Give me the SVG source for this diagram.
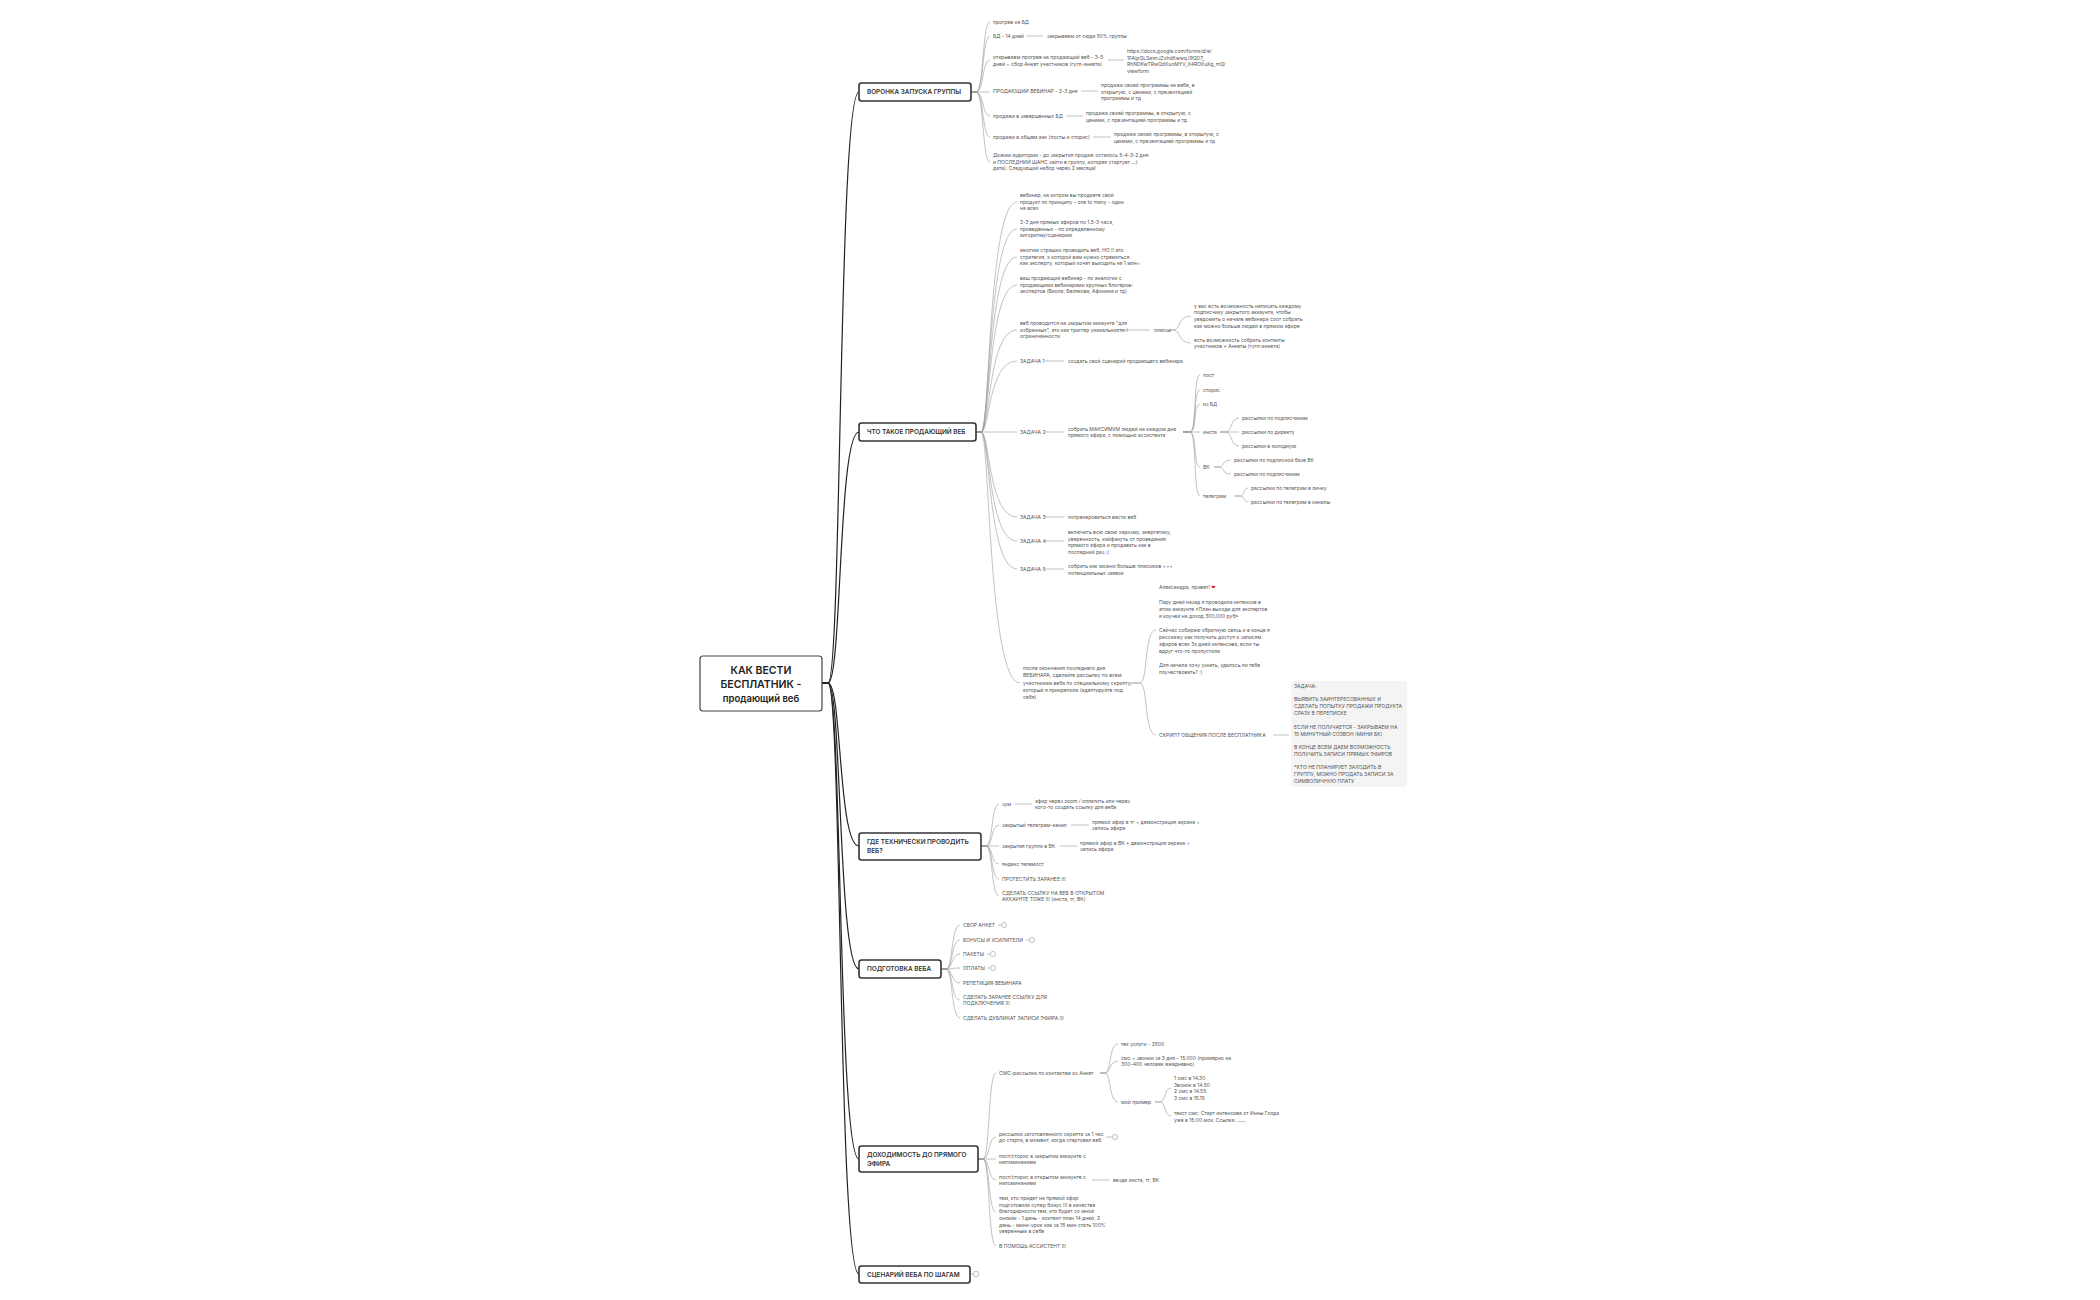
<svg xmlns="http://www.w3.org/2000/svg" width="2100" height="1300" viewBox="0 0 2100 1300">
<style>
.bg{fill:#fff}
.root rect{fill:#fff;stroke:#444;stroke-width:1.2}
.br rect{fill:#fff;stroke:#333;stroke-width:1.6}
text{font-family:Inter,"Liberation Sans","DejaVu Sans",sans-serif}
.rt{font-size:10.5px;font-weight:600;fill:#222;text-anchor:middle}
.bt{font-size:6.4px;font-weight:600;fill:#333}
.t{font-size:5px;fill:#555}
.m{fill:none;stroke:#222;stroke-width:1.2}
.l{fill:none;stroke:#999;stroke-width:0.6}
.ic{fill:#fff;stroke:#999;stroke-width:0.6}
.note{fill:#f4f4f4}
</style>
<rect class="bg" width="2100" height="1300"/>
<g id="connectors">
<g class="m">
<path d="M822,683 H828 C842,683 838,92 859,92"/>
<path d="M822,683 H828 C842,683 838,432 859,432"/>
<path d="M822,683 H828 C842,683 838,846 859,846"/>
<path d="M822,683 H828 C842,683 838,969 859,969"/>
<path d="M822,683 H828 C842,683 838,1159 859,1159"/>
<path d="M822,683 H828 C842,683 838,1274 859,1274"/>
</g>
<g class="l">
<path d="M971,92 H976 C984,92 982,22 990,22"/>
<path d="M971,92 H976 C984,92 982,36 990,36"/>
<path d="M971,92 H976 C984,92 982,60 990,60"/>
<path d="M971,92 H990"/>
<path d="M971,92 H976 C984,92 982,116 990,116"/>
<path d="M971,92 H976 C984,92 982,137 990,137"/>
<path d="M971,92 H976 C984,92 982,162 990,162"/>
<path d="M1026,36 H1043"/><path d="M1108,60 H1124"/><path d="M1081,91 H1098"/><path d="M1066,116 H1083"/><path d="M1093,137 H1111"/>
<path d="M976,432 H981 C990,432 988,202 1017,202"/>
<path d="M976,432 H981 C990,432 988,229 1017,229"/>
<path d="M976,432 H981 C990,432 988,257 1017,257"/>
<path d="M976,432 H981 C990,432 988,285 1017,285"/>
<path d="M976,432 H981 C990,432 988,330 1017,330"/>
<path d="M976,432 H981 C990,432 988,361 1017,361"/>
<path d="M976,432 H1017"/>
<path d="M976,432 H981 C990,432 988,517 1017,517"/>
<path d="M976,432 H981 C990,432 988,541 1017,541"/>
<path d="M976,432 H981 C990,432 988,569 1017,569"/>
<path d="M976,432 H981 C990,432 988,683 1020,683"/>
<path d="M1116,330 H1150"/>
<path d="M1169,330 H1174 C1180,330 1178,316 1191,316"/>
<path d="M1169,330 H1174 C1180,330 1178,343 1191,343"/>
<path d="M1045,361 H1064"/><path d="M1045,432 H1064"/><path d="M1045,517 H1064"/><path d="M1045,541 H1064"/><path d="M1045,569 H1064"/>
<path d="M1183,432 H1190 C1197,432 1193,375 1200,375"/>
<path d="M1183,432 H1190 C1197,432 1193,390 1200,390"/>
<path d="M1183,432 H1190 C1197,432 1193,404 1200,404"/>
<path d="M1183,432 H1200"/>
<path d="M1183,432 H1190 C1197,432 1193,467 1200,467"/>
<path d="M1183,432 H1190 C1197,432 1193,496 1200,496"/>
<path d="M1220,432 H1226 C1232,432 1230,418 1239,418"/><path d="M1220,432 H1239"/><path d="M1220,432 H1226 C1232,432 1230,446 1239,446"/>
<path d="M1214,467 H1219 C1224,467 1222,460 1231,460"/><path d="M1214,467 H1219 C1224,467 1222,474 1231,474"/>
<path d="M1235,496 H1240 C1245,496 1243,488 1248,488"/><path d="M1235,496 H1240 C1245,496 1243,502 1248,502"/>
<path d="M1131,683 H1140 C1148,683 1144,630 1156,630"/>
<path d="M1131,683 H1140 C1148,683 1144,735 1156,735"/>
<path d="M1273,735 H1289"/>
<path d="M981,846 H986 C993,846 991,804 999,804"/>
<path d="M981,846 H986 C993,846 991,825 999,825"/>
<path d="M981,846 H999"/>
<path d="M981,846 H986 C993,846 991,864 999,864"/>
<path d="M981,846 H986 C993,846 991,879 999,879"/>
<path d="M981,846 H986 C993,846 991,896 999,896"/>
<path d="M1015,804 H1032"/><path d="M1071,825 H1089"/><path d="M1060,846 H1077"/>
<path d="M941,969 H946 C953,969 951,925 960,925"/>
<path d="M941,969 H946 C953,969 951,940 960,940"/>
<path d="M941,969 H946 C953,969 951,954 960,954"/>
<path d="M941,969 H946 C953,969 951,968 960,968"/>
<path d="M941,969 H946 C953,969 951,983 960,983"/>
<path d="M941,969 H946 C953,969 951,1000 960,1000"/>
<path d="M941,969 H946 C953,969 951,1018 960,1018"/>
<path d="M998,925 H1001"/><path d="M1026,940 H1029"/><path d="M987,954 H990"/><path d="M987,968 H990"/>
<path d="M978,1159 H983 C990,1159 988,1073 996,1073"/>
<path d="M978,1159 H983 C990,1159 988,1137 996,1137"/>
<path d="M978,1159 H983 C990,1159 988,1159 996,1159"/>
<path d="M978,1159 H983 C990,1159 988,1180 996,1180"/>
<path d="M978,1159 H983 C990,1159 988,1212 996,1212"/>
<path d="M978,1159 H983 C990,1159 988,1246 996,1246"/>
<path d="M1100,1073 H1105 C1111,1073 1109,1044 1118,1044"/>
<path d="M1100,1073 H1105 C1111,1073 1109,1061 1118,1061"/>
<path d="M1100,1073 H1105 C1111,1073 1109,1102 1118,1102"/>
<path d="M1155,1102 H1160 C1166,1102 1164,1088 1171,1088"/>
<path d="M1155,1102 H1160 C1166,1102 1164,1116 1171,1116"/>
<path d="M1106,1137 H1112"/>
<path d="M1092,1180 H1110"/>
<path d="M970,1274 H973"/>
</g>
</g>
<g id="root" class="root"><rect x="700" y="656" width="122" height="55" rx="3"/>
<text class="rt" x="761" y="674">КАК ВЕСТИ</text><text class="rt" x="761" y="688">БЕСПЛАТНИК -</text><text class="rt" x="761" y="702" style="font-size:9.5px">продающий веб</text></g>

<g id="b1" class="br"><rect x="859" y="83" width="112" height="18" rx="2.5"/><text class="bt" x="867" y="94.3">ВОРОНКА ЗАПУСКА ГРУППЫ</text></g>
<g id="b1c">
<text class="t" x="993" y="23.8">прогрев на БД</text>
<text class="t" x="993" y="37.8">БД - 14 дней</text>
<text class="t" x="1047" y="37.8">закрываем от сюда 50% группы</text>
<text class="t" x="993" y="59">открываем прогрев на продающий веб - 3-5</text><text class="t" x="993" y="66">дней + сбор Анкет участников (гугл-анкета)</text>
<text class="t" x="1127" y="52.8">https://docs.google.com/forms/d/e/</text><text class="t" x="1127" y="59.5">1FAIpQLSesnJZvhdKwwqJ9QD7_</text><text class="t" x="1127" y="66.2">RhNDKwTRwQdXuoMYV_X4ROXuKg_mQ/</text><text class="t" x="1127" y="73">viewform</text>
<text class="t" x="993" y="92.8">ПРОДАЮЩИЙ ВЕБИНАР - 2-3 дня</text>
<text class="t" x="1101" y="86.8">продажа своей программы на вебе, в</text><text class="t" x="1101" y="93.5">открытую, с ценами, с презентацией</text><text class="t" x="1101" y="100.2">программы и тд</text>
<text class="t" x="993" y="117.8">продажи в завершенных БД</text>
<text class="t" x="1086" y="114.8">продажа своей программы, в открытую, с</text><text class="t" x="1086" y="121.6">ценами, с презентацией программы и тд</text>
<text class="t" x="993" y="138.8">продажи в общем акк (посты и сторис)</text>
<text class="t" x="1114" y="135.8">продажа своей программы, в открытую, с</text><text class="t" x="1114" y="142.6">ценами, с презентацией программы и тд</text>
<text class="t" x="993" y="156.8">Дожим аудитории - до закрытия продаж осталось 5-4-3-2 дня</text><text class="t" x="993" y="163.6">и ПОСЛЕДНИЙ ШАНС зайти в группу, которая стартует ...(</text><text class="t" x="993" y="170.4">дата). Следующий набор через 2 месяца!</text>
</g>

<g id="b2" class="br"><rect x="859" y="423" width="117" height="18" rx="2.5"/><text class="bt" x="867" y="434.3">ЧТО ТАКОЕ ПРОДАЮЩИЙ ВЕБ</text></g>
<g id="b2c">
<text class="t" x="1020" y="196.8">вебинар, на котром вы продаете свой</text><text class="t" x="1020" y="203.5">продукт по принципу - one to many - один</text><text class="t" x="1020" y="210.2">на всех</text>
<text class="t" x="1020" y="223.8">2-3 дня прямых эфиров по 1.5-3 часа,</text><text class="t" x="1020" y="230.5">проведенных - по определенному</text><text class="t" x="1020" y="237.2">алгоритму/сценарию</text>
<text class="t" x="1020" y="251.8">многим страшно проводить веб, НО !! это</text><text class="t" x="1020" y="258.5">стратегия, к которой вам нужно стремиться</text><text class="t" x="1020" y="265.2">как эксперту, который хочет выходить на 1 млн+</text>
<text class="t" x="1020" y="279.8">ваш продающий вебинар - по аналогии с</text><text class="t" x="1020" y="286.5">продающими вебинарами крупных блогеров-</text><text class="t" x="1020" y="293.2">экспертов (Виола, Белякова, Афонина и тд)</text>
<text class="t" x="1020" y="324.8">веб проводится на закрытом аккаунте "для</text><text class="t" x="1020" y="331.5">избранных", это как триггер уникальности /</text><text class="t" x="1020" y="338.2">ограниченности</text>
<text class="t" x="1154" y="331.8">плюсы</text>
<text class="t" x="1194" y="307.8">у вас есть возможность написать каждому</text><text class="t" x="1194" y="314.4">подписчику закрытого аккаунта, чтобы</text><text class="t" x="1194" y="321">уведомить о начале вебинара соот собрать</text><text class="t" x="1194" y="327.6">как можно больше людей в прямом эфире</text>
<text class="t" x="1194" y="341.8">есть возможность собрать контакты</text><text class="t" x="1194" y="348.4">участников + Анкеты (гугл-анкета)</text>
<text class="t" x="1020" y="362.8">ЗАДАЧА 1</text><text class="t" x="1068" y="362.8">создать свой сценарий продающего вебинара</text>
<text class="t" x="1020" y="433.8">ЗАДАЧА 2</text>
<text class="t" x="1068" y="430.5">собрать МАКСИМУМ людей на каждом дне</text><text class="t" x="1068" y="437.2">прямого эфира, с помощью ассистента</text>
<text class="t" x="1203" y="376.8">пост</text><text class="t" x="1203" y="391.8">сторис</text><text class="t" x="1203" y="405.8">из БД</text><text class="t" x="1203" y="433.8">инста</text><text class="t" x="1203" y="468.8">ВК</text><text class="t" x="1203" y="497.8">телеграм</text>
<text class="t" x="1242" y="419.8">рассылки по подписчикам</text><text class="t" x="1242" y="433.8">рассылки по директу</text><text class="t" x="1242" y="447.8">рассылки в холодную</text>
<text class="t" x="1234" y="461.8">рассылки по подписной базе ВК</text><text class="t" x="1234" y="475.8">рассылки по подписчикам</text>
<text class="t" x="1251" y="489.8">рассылки по телеграм в личку</text><text class="t" x="1251" y="503.8">рассылки по телеграм в каналы</text>
<text class="t" x="1020" y="518.8">ЗАДАЧА 3</text><text class="t" x="1068" y="518.8">потренероваться вести веб</text>
<text class="t" x="1020" y="542.8">ЗАДАЧА 4</text>
<text class="t" x="1068" y="533.8">включить всю свою харизму, энергетику,</text><text class="t" x="1068" y="540.5">уверенность, кайфануть от проведения</text><text class="t" x="1068" y="547.2">прямого эфира и продавать как в</text><text class="t" x="1068" y="553.9">последний раз :)</text>
<text class="t" x="1068" y="567.8">собрать как можно больше плюсиков +++</text><text class="t" x="1068" y="574.5">потенциальных заявок</text>
<text class="t" x="1020" y="570.8">ЗАДАЧА 5</text>
<text class="t" x="1023" y="670.3">после окончания последнего дня</text><text class="t" x="1023" y="677.4">ВЕБИНАРА, сделайте рассылку по всем</text><text class="t" x="1023" y="684.5">участникам веба по специальному скрипту,</text><text class="t" x="1023" y="691.6">который я прикрепила (адаптируйте под</text><text class="t" x="1023" y="698.7">себя)</text>
<text class="t" x="1159" y="589.3">Александра, привет! <tspan fill="#e02020" style="font-family:'DejaVu Sans'">❤</tspan></text>
<text class="t" x="1159" y="603.8">Пару дней назад я проводила интенсив в</text><text class="t" x="1159" y="610.9">этом аккаунте «План выхода для экспертов</text><text class="t" x="1159" y="618">и коучей на доход 300.000 руб»</text>
<text class="t" x="1159" y="631.8">Сейчас собираю обратную связь и в конце я</text><text class="t" x="1159" y="638.9">расскажу как получить доступ к записям</text><text class="t" x="1159" y="646">эфиров всех 3х дней интенсива, если ты</text><text class="t" x="1159" y="653.1">вдруг что-то пропустила</text>
<text class="t" x="1159" y="666.8">Для начала хочу узнать, удалось ли тебе</text><text class="t" x="1159" y="673.9">поучаствовать? :)</text>
<text class="t" x="1159" y="736.8">СКРИПТ ОБЩЕНИЯ ПОСЛЕ БЕСПЛАТНИКА</text>
<rect class="note" x="1291" y="681" width="116" height="106" rx="2"/>
<text class="t" x="1294" y="688.3">ЗАДАЧА:</text>
<text class="t" x="1294" y="701.3">ВЫЯВИТЬ ЗАИНТЕРЕСОВАННЫХ И</text><text class="t" x="1294" y="708.2">СДЕЛАТЬ ПОПЫТКУ ПРОДАЖИ ПРОДУКТА</text><text class="t" x="1294" y="715.1">СРАЗУ В ПЕРЕПИСКЕ</text>
<text class="t" x="1294" y="729.3">ЕСЛИ НЕ ПОЛУЧАЕТСЯ - ЗАКРЫВАЕМ НА</text><text class="t" x="1294" y="736.2">15 МИНУТНЫЙ СОЗВОН (МИНИ БК)</text>
<text class="t" x="1294" y="749.3">В КОНЦЕ ВСЕМ ДАЕМ ВОЗМОЖНОСТЬ</text><text class="t" x="1294" y="756.2">ПОЛУЧИТЬ ЗАПИСИ ПРЯМЫХ ЭФИРОВ</text>
<text class="t" x="1294" y="769.3">*КТО НЕ ПЛАНИРУЕТ ЗАХОДИТЬ В</text><text class="t" x="1294" y="776.2">ГРУППУ, МОЖНО ПРОДАТЬ ЗАПИСИ ЗА</text><text class="t" x="1294" y="783.1">СИМВОЛИЧНУЮ ПЛАТУ</text>
</g>

<g id="b3" class="br"><rect x="859" y="833" width="122" height="27" rx="2.5"/><text class="bt" x="867" y="844.3">ГДЕ ТЕХНИЧЕСКИ ПРОВОДИТЬ</text><text class="bt" x="867" y="853.3">ВЕБ?</text></g>
<g id="b3c">
<text class="t" x="1002" y="805.8">зум</text>
<text class="t" x="1035" y="802.5">эфир через zoom / оплатить или через</text><text class="t" x="1035" y="809.2">кого-то создать ссылку для веба</text>
<text class="t" x="1002" y="826.8">закрытый телеграм-канал</text>
<text class="t" x="1092" y="823.5">прямой эфир в тг + демонстрация экрана +</text><text class="t" x="1092" y="830.2">запись эфира</text>
<text class="t" x="1002" y="847.8">закрытая группа в ВК</text>
<text class="t" x="1080" y="844.5">прямой эфир в ВК + демонстрация экрана +</text><text class="t" x="1080" y="851.2">запись эфира</text>
<text class="t" x="1002" y="865.8">яндекс телемост</text>
<text class="t" x="1002" y="880.8">ПРОТЕСТИТЬ ЗАРАНЕЕ !!!</text>
<text class="t" x="1002" y="894.5">СДЕЛАТЬ ССЫЛКУ НА ВЕБ В ОТКРЫТОМ</text><text class="t" x="1002" y="901.2">АККАУНТЕ ТОЖЕ !!! (инста, тг, ВК)</text>
</g>

<g id="b4" class="br"><rect x="859" y="960" width="82" height="18" rx="2.5"/><text class="bt" x="867" y="971.3">ПОДГОТОВКА ВЕБА</text></g>
<g id="b4c">
<text class="t" x="963" y="926.8">СБОР АНКЕТ</text><circle class="ic" cx="1004" cy="925" r="2.6"/>
<text class="t" x="963" y="941.8">БОНУСЫ И УСИЛИТЕЛИ</text><circle class="ic" cx="1032" cy="940" r="2.6"/>
<text class="t" x="963" y="955.8">ПАКЕТЫ</text><circle class="ic" cx="993" cy="954" r="2.6"/>
<text class="t" x="963" y="969.8">ОПЛАТЫ</text><circle class="ic" cx="993" cy="968" r="2.6"/>
<text class="t" x="963" y="984.8">РЕПЕТИЦИЯ ВЕБИНАРА</text>
<text class="t" x="963" y="998.5">СДЕЛАТЬ ЗАРАНЕЕ ССЫЛКУ ДЛЯ</text><text class="t" x="963" y="1005.2">ПОДКЛЮЧЕНИЯ !!!</text>
<text class="t" x="963" y="1019.8">СДЕЛАТЬ ДУБЛИКАТ ЗАПИСИ ЭФИРА !!!</text>
</g>

<g id="b5" class="br"><rect x="859" y="1146" width="119" height="26" rx="2.5"/><text class="bt" x="867" y="1157">ДОХОДИМОСТЬ ДО ПРЯМОГО</text><text class="bt" x="867" y="1166">ЭФИРА</text></g>
<g id="b5c">
<text class="t" x="999" y="1074.8">СМС-рассылка по контактам из Анкет</text>
<text class="t" x="1121" y="1045.8">тех услуги - 2500</text>
<text class="t" x="1121" y="1059.5">смс + звонки за 3 дня - 15.000 (примерно на</text><text class="t" x="1121" y="1066.2">300-400 человек ежедневно)</text>
<text class="t" x="1121" y="1103.8">мой пример</text>
<text class="t" x="1174" y="1079.8">1 смс в 14.30</text><text class="t" x="1174" y="1086.6">Звонок в 14.50</text><text class="t" x="1174" y="1093.4">2 смс в 14.55</text><text class="t" x="1174" y="1100.2">3 смс в 15.15</text>
<text class="t" x="1174" y="1114.8">текст смс: Старт интенсива от Инны Голда</text><text class="t" x="1174" y="1121.5">уже в 15:00 мск. Ссылка: ......</text>
<text class="t" x="999" y="1135.5">рассылка заготовленного скрипта за 1 час</text><text class="t" x="999" y="1142.2">до старта, в момент, когда стартовал веб</text><circle class="ic" cx="1115" cy="1137" r="2.6"/>
<text class="t" x="999" y="1157.5">пост/сторис в закрытом аккаунте с</text><text class="t" x="999" y="1164.2">напоминанием</text>
<text class="t" x="999" y="1178.5">пост/сторис в открытом аккаунте с</text><text class="t" x="999" y="1185.2">напоминанием</text>
<text class="t" x="1113" y="1181.8">везде инста, тг, ВК</text>
<text class="t" x="999" y="1199.8">тем, кто придет на прямой эфир</text><text class="t" x="999" y="1206.5">подготовила супер бонус !!! в качестве</text><text class="t" x="999" y="1213.2">благодарности тем, кто будет со мной</text><text class="t" x="999" y="1219.9">онлайн - 1 день - контент план 14 дней, 2</text><text class="t" x="999" y="1226.6">день - мини-урок как за 15 мин стать 100%</text><text class="t" x="999" y="1233.3">уверенным в себе</text>
<text class="t" x="999" y="1247.8">В ПОМОЩЬ АССИСТЕНТ !!!</text>
</g>

<g id="b6" class="br"><rect x="859" y="1266" width="111" height="17" rx="2.5"/><text class="bt" x="867" y="1276.8">СЦЕНАРИЙ ВЕБА ПО ШАГАМ</text><circle class="ic" cx="976" cy="1274" r="2.8"/></g>
</svg>
